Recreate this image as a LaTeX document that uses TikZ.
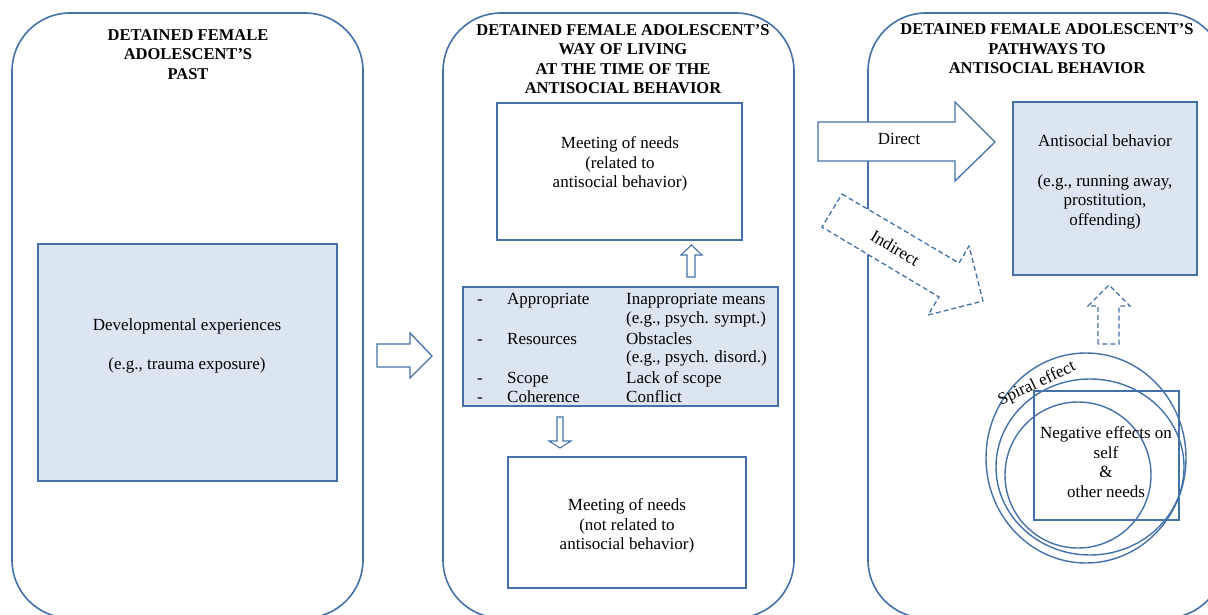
\documentclass[tikz,border=0pt]{standalone}
\usepackage{fontspec}
\setmainfont{Liberation Serif}
\definecolor{bord}{RGB}{68,114,168}
\definecolor{fillb}{RGB}{220,230,242}
\begin{document}
\begin{tikzpicture}[x=1pt,y=-1pt,
  panel/.style={draw=bord, line width=1.6pt, rounded corners=58pt},
  box/.style={draw=bord, line width=1.4pt},
  bluebox/.style={box, fill=fillb},
  txt/.style={font=\fontsize{17}{19.5}\selectfont, align=center, inner sep=0pt},
  ltxt/.style={font=\fontsize{17}{19.5}\selectfont, inner sep=0pt, anchor=base west},
  hdr/.style={font=\fontsize{16.5}{19.5}\selectfont\bfseries, align=center, inner sep=0pt},
  barrow/.style={draw=bord, line width=1.3pt, fill=white, line join=miter},
  darrow/.style={barrow, dashed, dash pattern=on 5pt off 3pt}]
\useasboundingbox (0,0) rectangle (1208,615);
\clip (0,0) rectangle (1208,615);
% panels
\draw[panel] (12,13) rectangle (363,618);
\draw[panel] (443,13) rectangle (794,618);
\draw[panel] (868,13) rectangle (1224,618);
% headers
\node[hdr] (h1) at (188,54.5) {DETAINED FEMALE\\ADOLESCENT’S\\PAST};
\node[hdr] (h2) at (623,59) {DETAINED FEMALE ADOLESCENT’S\\WAY OF LIVING\\AT THE TIME OF THE\\ANTISOCIAL BEHAVIOR};
\node[hdr] (h3) at (1047,49) {DETAINED FEMALE ADOLESCENT’S\\PATHWAYS TO\\ANTISOCIAL BEHAVIOR};
% panel 1
\draw[bluebox] (38,244) rectangle (337,481);
\node[txt] (dev) at (187,346) {Developmental experiences\\[20pt](e.g., trauma exposure)};
% arrow panel1 -> panel2
\draw[barrow] (377,344) -- (410,344) -- (410,333) -- (432,356) -- (410,378) -- (410,367) -- (377,367) -- cycle;
% panel 2
\draw[box, fill=white] (497,103) rectangle (742,240);
\node[txt] (m1) at (620,164) {Meeting of needs\\(related to\\antisocial behavior)};
\draw[barrow, line width=1.1pt] (687,277) -- (687,255) -- (681,255) -- (691.5,245) -- (702,255) -- (695,255) -- (695,277) -- cycle;
\draw[bluebox] (463,287) rectangle (778,406);
\foreach \yy/\b/\c [count=\i] in {304/Appropriate/Inappropriate means, 344/Resources/Obstacles, 383/Scope/Lack of scope, 402/Coherence/Conflict}{
  \node[ltxt] (la\i) at (477,\yy) {-};
  \node[ltxt] (lb\i) at (507,\yy) {\b};
  \node[ltxt] (lc\i) at (626,\yy) {\c};
}
\node[ltxt] (ld1) at (626,323) {(e.g., psych. sympt.)};
\node[ltxt] (ld2) at (626,362) {(e.g., psych. disord.)};
\draw[barrow, line width=1.1pt] (557,417) -- (563,417) -- (563,441) -- (571,441) -- (560,448) -- (549,441) -- (557,441) -- cycle;
\draw[box, fill=white] (508,457) rectangle (746,588);
\node[txt] (m2) at (627,526) {Meeting of needs\\(not related to\\antisocial behavior)};
% panel 3
\draw[barrow] (818,122) -- (955,122) -- (955,102) -- (995,142) -- (955,181) -- (955,161) -- (818,161) -- cycle;
\node[txt] (direct) at (899,139) {Direct};
\draw[darrow] (842,194) -- (959,263) -- (969,246) -- (983,301) -- (928,315) -- (939,297) -- (822,227) -- cycle;
\node[txt, rotate=-30.5] (indirect) at (895,248) {Indirect};
\draw[bluebox] (1013,102) rectangle (1197,275);
\node[txt] (asb) at (1105,182) {Antisocial behavior\\[20pt](e.g., running away,\\prostitution,\\offending)};
\draw[darrow, line width=1.1pt] (1098,344) -- (1098,306) -- (1088,306) -- (1109,285) -- (1130,306) -- (1119,306) -- (1119,344) -- cycle;
\draw[box] (1086,458) ellipse [x radius=100, y radius=105];
\draw[box] (1090,467) ellipse [x radius=94, y radius=88];
\draw[box] (1078,475) ellipse [x radius=73, y radius=73];
\draw[box] (1034,391) rectangle (1179,520);
\node[txt] (neg) at (1106,462) {Negative effects on\\self\\\&\\other needs};
\node[txt, rotate=25.5] (spiral) at (1037,384) {Spiral effect};
\end{tikzpicture}
\end{document}
